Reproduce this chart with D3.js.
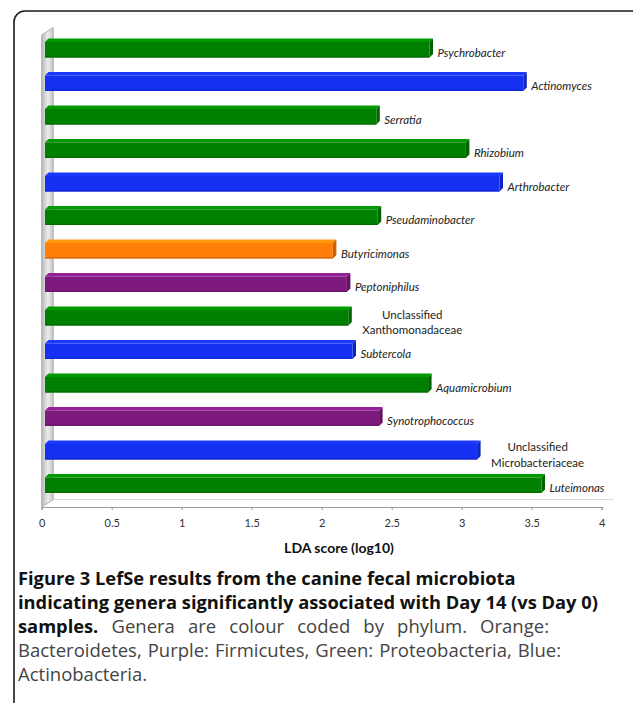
<!DOCTYPE html>
<html>
<head>
<meta charset="utf-8">
<script src="https://cdn.jsdelivr.net/npm/d3@7"></script>
<style>
  html, body { margin: 0; padding: 0; background: #fff; }
  svg { display: block; }
</style>
</head>
<body>
<svg id="chart" width="633" height="703"></svg>
<script>
// ---------------- DATA ----------------
const genera = [
  "Psychrobacter", "Actinomyces", "Serratia", "Rhizobium", "Arthrobacter",
  "Pseudaminobacter", "Butyricimonas", "Peptoniphilus",
  "Unclassified Xanthomonadaceae", "Subtercola", "Aquamicrobium",
  "Synotrophococcus", "Unclassified Microbacteriaceae", "Luteimonas"
];
const ldaScores = [2.77, 3.44, 2.39, 3.03, 3.27, 2.40, 2.08, 2.18, 2.19, 2.22, 2.76, 2.41, 3.11, 3.57];
const phyla = [
  "Proteobacteria", "Actinobacteria", "Proteobacteria", "Proteobacteria", "Actinobacteria",
  "Proteobacteria", "Bacteroidetes", "Firmicutes", "Proteobacteria", "Actinobacteria",
  "Proteobacteria", "Firmicutes", "Actinobacteria", "Proteobacteria"
];
const phylumNames = ["Proteobacteria", "Actinobacteria", "Bacteroidetes", "Firmicutes"];
const phylumColors = ["#008000", "#1530f2", "#ff7f0a", "#7e1a7e"];
const xTicks = [0, 0.5, 1, 1.5, 2, 2.5, 3, 3.5, 4];
const xTitle = "LDA score (log10)";
const captionLines = [
  [{t: "Figure 3 LefSe results from the canine fecal microbiota", b: true}],
  [{t: "indicating genera significantly associated with Day 14 (vs Day 0)", b: true}],
  [{t: "samples.", b: true}, {t: " Genera are colour coded by phylum. Orange:", b: false}],
  [{t: "Bacteroidetes, Purple: Firmicutes, Green: Proteobacteria, Blue:", b: false}],
  [{t: "Actinobacteria.", b: false}]
];

// ---------------- DRAW ----------------
const svg = d3.select("#chart");
svg.append("rect").attr("width", 633).attr("height", 703).attr("fill", "#fff");

// frame with rounded top-left corner
svg.append("path")
  .attr("d", "M14,703 L14,22 A11,11 0 0 1 25,11 L633,11")
  .attr("fill", "none").attr("stroke", "#1a1a1a").attr("stroke-width", 1.6);

const x = d3.scaleLinear().domain([0, 4]).range([41.7, 601.7]);
const y = d3.scaleBand().domain(genera).range([32.75, 501.75])
  .paddingInner(0.52).paddingOuter(0.26);

const color = d3.scaleOrdinal().domain(phylumNames).range(phylumColors);

const defs = svg.append("defs");
const wallGrad = defs.append("linearGradient").attr("id", "wallGrad")
  .attr("x1", "0").attr("x2", "1").attr("y1", "0").attr("y2", "0");
wallGrad.append("stop").attr("offset", "0").attr("stop-color", "#b8b8b8");
wallGrad.append("stop").attr("offset", "0.55").attr("stop-color", "#ececec");
wallGrad.append("stop").attr("offset", "1").attr("stop-color", "#c4c4c4");

const x0 = x(0);
const dX = 11.5, dY = 7.5; // wall depth
const plotTop = 35, floorY = 507;

// floor back line
svg.append("line").attr("x1", x0 + dX).attr("x2", x(4) + dX)
  .attr("y1", floorY - dY).attr("y2", floorY - dY)
  .attr("stroke", "#d8d8d8").attr("stroke-width", 1);

// wall
svg.append("path")
  .attr("d", `M${x0},${plotTop} L${x0 + dX},${plotTop - dY} L${x0 + dX},${floorY - dY} L${x0},${floorY} Z`)
  .attr("fill", "url(#wallGrad)").attr("stroke", "#a0a0a0").attr("stroke-width", 0.8);

// x axis
const axisG = svg.append("g").attr("transform", `translate(0,${floorY})`)
  .call(d3.axisBottom(x).tickValues(xTicks).tickSize(3).tickPadding(9)
    .tickFormat(d => String(d)));
axisG.select(".domain").attr("stroke", "#9a9a9a").attr("stroke-width", 1.2);
axisG.selectAll(".tick line").attr("stroke", "#9a9a9a");
axisG.selectAll(".tick text").attr("font-family", "Lato, 'Open Sans', sans-serif")
  .attr("font-size", 11).attr("fill", "#333");

svg.append("text").attr("x", 339).attr("y", 553).attr("text-anchor", "middle")
  .attr("font-family", "Lato, 'Open Sans', sans-serif").attr("font-weight", "bold")
  .attr("font-size", 14).attr("fill", "#111").text(xTitle);

// bars
const bd = 3.5, bh = 15.5; // bar depth offset, front height
const rows = genera.map((g, i) => ({g, v: ldaScores[i], p: phyla[i]}));
const barG = svg.append("g").selectAll("g").data(rows).join("g");

barG.each(function(d) {
  const g = d3.select(this);
  const c = d3.color(color(d.p));
  const cy = y(d.g) + y.bandwidth() / 2;
  const xs = x0 + 3.3, xe = x(d.v), top = cy - 7.5;
  // top face
  g.append("path")
    .attr("d", `M${xs},${top} L${xs + bd},${top - bd} L${xe + bd},${top - bd} L${xe},${top} Z`)
    .attr("fill", c.brighter(0.5));
  // side face
  g.append("path")
    .attr("d", `M${xe},${top} L${xe + bd},${top - bd} L${xe + bd},${top + bh - bd} L${xe},${top + bh} Z`)
    .attr("fill", c.darker(0.7));
  // front face
  g.append("rect").attr("x", xs).attr("y", top).attr("width", xe - xs).attr("height", bh)
    .attr("fill", c.formatHex());
  g.append("rect").attr("x", xs).attr("y", top + bh - 1.5).attr("width", xe - xs).attr("height", 1.5)
    .attr("fill", c.darker(0.4));

  // label
  if (d.g.startsWith("Unclassified")) {
    const parts = d.g.split(" ");
    const t = g.append("text").attr("font-family", "Lato, 'Open Sans', sans-serif")
      .attr("font-size", 11.5).attr("fill", "#222").attr("text-anchor", "middle");
    const t2 = t.append("tspan").text(parts[1]);
    const w = Math.max(t2.node().getComputedTextLength(), 0);
    const cx = xe + 14 + w / 2;
    t.text(null);
    t.append("tspan").attr("x", cx).attr("y", cy + (d.g.includes("Micro") ? -0.5 : 1.5)).text(parts[0]);
    t.append("tspan").attr("x", cx).attr("y", cy + (d.g.includes("Micro") ? 15 : 16)).text(parts[1]);
  } else {
    g.append("text").attr("x", xe + 8).attr("y", cy + 7)
      .attr("font-family", "Lato, 'Open Sans', sans-serif").attr("font-style", "italic")
      .attr("font-size", 11.5).attr("fill", "#222").text(d.g);
  }
});

// caption
const capX = 18;
const capY = [585, 609, 633, 657, 681];
const capRight = [null, null, 549, 561, null];
captionLines.forEach((line, i) => {
  const t = svg.append("text").attr("x", capX).attr("y", capY[i])
    .attr("font-family", "'Open Sans', 'Noto Sans', sans-serif").attr("font-size", 18.3);
  line.forEach(seg => {
    t.append("tspan").attr("font-weight", seg.b ? "bold" : "normal")
      .attr("font-size", seg.b ? 18.3 : 18.5)
      .attr("fill", seg.b ? "#111" : "#444").text(seg.t);
  });
  if (capRight[i]) {
    const natural = t.node().getComputedTextLength();
    const nSp = line.map(s => s.t).join("").split(" ").length - 1;
    const extra = (capRight[i] - capX) - natural;
    if (extra > 0 && nSp > 0) t.attr("word-spacing", extra / nSp);
  }
});
</script>
</body>
</html>
